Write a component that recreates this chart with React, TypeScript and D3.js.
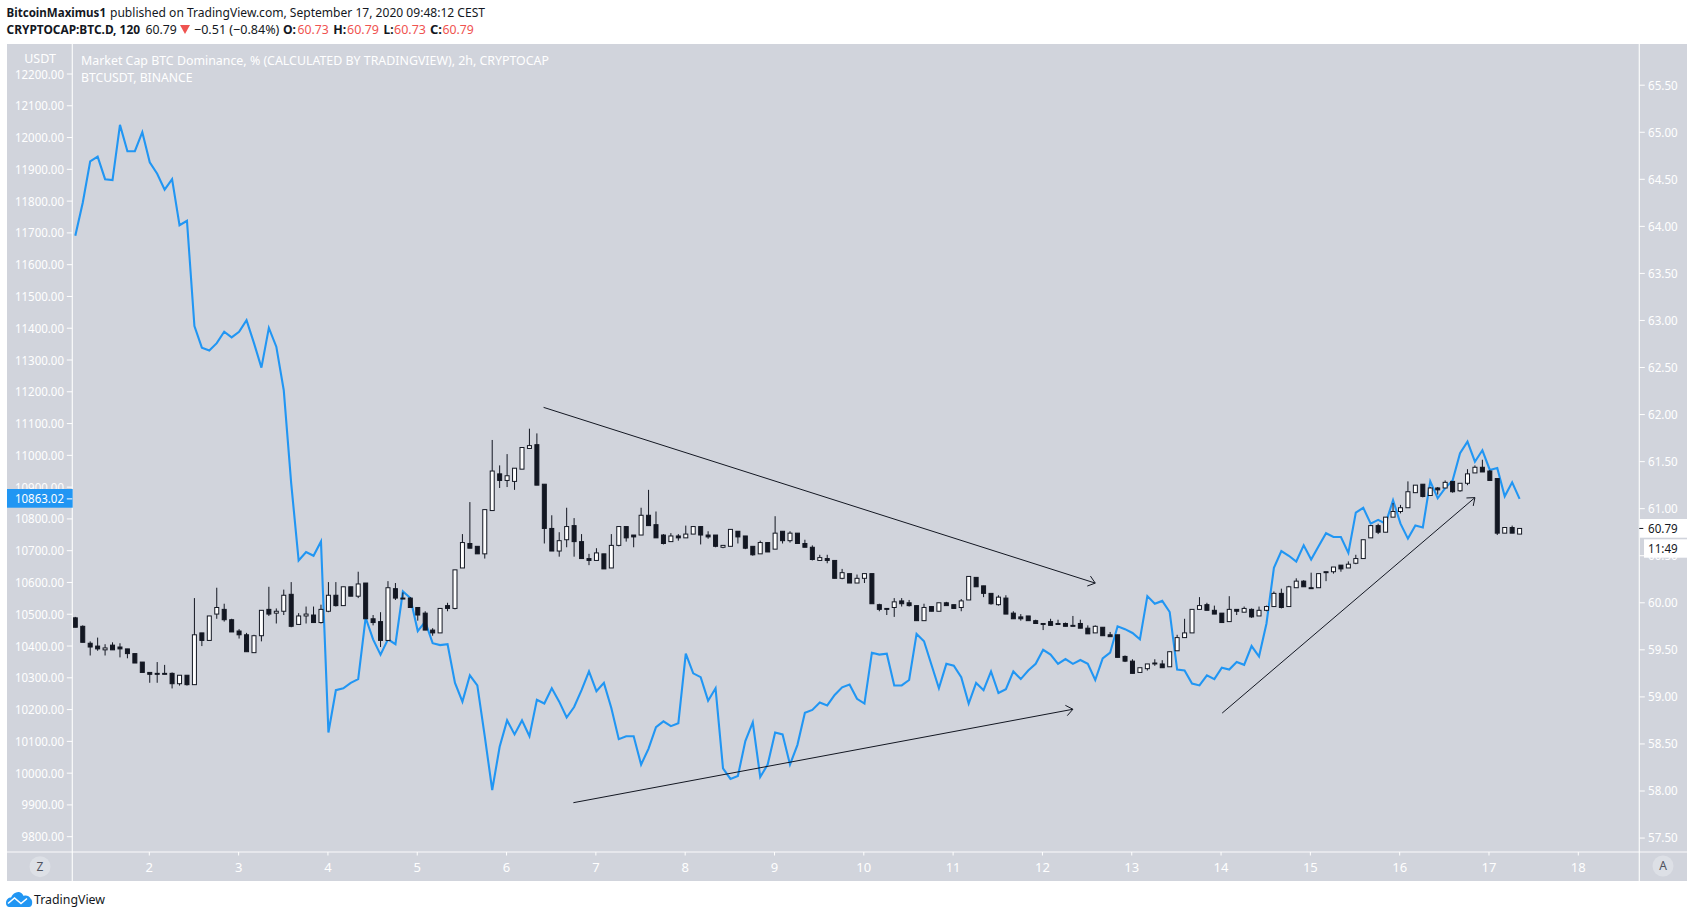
import React from "react";
import * as d3 from "d3";

// BTC.D candles (right axis, percent), 2h bars, one row per ten bars
const opens = [
59.84,59.75,59.57,59.54,59.50,59.55,59.53,59.51,59.46,59.37,
59.26,59.25,59.25,59.25,59.14,59.23,59.13,59.68,59.60,59.88,
59.93,59.82,59.70,59.66,59.47,59.65,59.93,59.89,59.91,60.09,
59.77,59.86,59.87,59.79,59.91,60.08,59.97,60.17,60.07,60.21,
59.83,59.80,59.60,60.15,60.05,60.05,59.95,59.89,59.71,59.68,
59.97,59.94,60.37,60.63,60.60,60.52,60.98,61.37,61.30,61.29,
61.42,61.64,61.68,61.26,60.79,60.55,60.67,60.82,60.65,60.47,
60.45,60.52,60.37,60.61,60.81,60.72,60.72,60.93,60.83,60.72,
60.65,60.71,60.69,60.73,60.81,60.72,60.72,60.59,60.60,60.76,
60.71,60.60,60.52,60.64,60.57,60.76,60.66,60.74,60.63,60.59,
60.45,60.47,60.45,60.26,60.31,60.21,60.26,60.31,59.98,59.94,
59.95,60.02,60.00,59.97,59.81,59.96,59.91,60.00,59.98,59.95,
60.03,60.27,60.18,60.10,59.98,60.05,59.89,59.85,59.86,59.81,
59.78,59.80,59.78,59.78,59.76,59.78,59.73,59.68,59.74,59.66,
59.66,59.43,59.38,59.26,59.30,59.36,59.35,59.32,59.49,59.63,
59.68,59.93,59.98,59.92,59.89,59.80,59.93,59.90,59.93,59.86,
59.92,59.96,60.10,59.96,60.16,60.23,60.16,60.16,60.33,60.33,
60.40,60.37,60.42,60.47,60.69,60.82,60.75,60.91,60.97,61.01,
61.17,61.26,61.14,61.22,61.22,61.29,61.19,61.27,61.38,61.44,
61.40,61.32,60.74,60.80,60.73];
const highs = [
59.85,59.76,59.59,59.63,59.56,59.58,59.57,59.51,59.46,59.37,
59.26,59.37,59.34,59.26,59.23,59.23,60.05,59.68,59.86,60.16,
59.99,59.83,59.72,59.68,59.66,59.92,60.17,59.94,60.14,60.22,
59.89,59.96,59.96,59.98,60.22,60.22,60.17,60.17,60.33,60.21,
59.87,59.90,60.23,60.21,60.11,60.06,59.95,59.91,59.73,59.94,
60.00,60.35,60.73,61.07,60.60,60.99,61.73,61.46,61.58,61.43,
61.65,61.85,61.80,61.26,60.93,60.75,61.01,60.90,60.73,60.52,
60.58,60.52,60.73,60.81,60.81,60.72,61.01,61.20,60.97,60.73,
60.74,60.73,60.82,60.81,60.81,60.76,60.72,60.61,60.78,60.76,
60.71,60.60,60.66,60.64,60.92,60.76,60.76,60.74,60.67,60.61,
60.51,60.51,60.45,60.36,60.31,60.30,60.31,60.31,59.99,59.94,
60.05,60.05,60.03,59.97,59.99,59.96,60.00,60.01,59.98,60.04,
60.28,60.27,60.18,60.10,60.08,60.08,59.91,59.88,59.86,59.82,
59.78,59.83,59.82,59.79,59.86,59.82,59.76,59.76,59.74,59.69,
59.66,59.44,59.40,59.31,59.35,59.40,59.39,59.48,59.66,59.83,
59.93,60.06,60.00,59.97,59.89,60.07,59.93,59.96,59.94,59.96,
59.97,60.12,60.15,60.18,60.26,60.24,60.32,60.31,60.33,60.38,
60.40,60.44,60.51,60.67,60.82,60.84,60.91,61.06,61.04,61.29,
61.25,61.26,61.23,61.23,61.30,61.29,61.27,61.42,61.46,61.52,
61.41,61.32,60.80,60.82,60.79];
const lows = [
59.74,59.58,59.44,59.49,59.44,59.50,59.42,59.41,59.36,59.26,
59.15,59.15,59.24,59.09,59.12,59.12,59.13,59.54,59.60,59.83,
59.80,59.69,59.62,59.48,59.47,59.59,59.86,59.78,59.87,59.74,
59.77,59.78,59.79,59.78,59.90,59.96,59.97,60.07,60.05,59.83,
59.76,59.53,59.60,60.03,60.04,59.95,59.81,59.71,59.65,59.68,
59.91,59.93,60.37,60.58,60.52,60.47,60.98,61.22,61.23,61.20,
61.42,61.64,61.25,60.63,60.55,60.49,60.59,60.49,60.47,60.40,
60.45,60.36,60.37,60.60,60.65,60.59,60.72,60.82,60.69,60.62,
60.65,60.66,60.69,60.73,60.62,60.68,60.59,60.58,60.60,60.63,
60.57,60.50,60.52,60.54,60.57,60.63,60.64,60.63,60.59,60.45,
60.45,60.42,60.26,60.25,60.21,60.21,60.21,59.99,59.91,59.87,
59.85,59.96,59.96,59.81,59.81,59.91,59.91,59.97,59.94,59.91,
60.03,60.17,60.06,59.98,59.97,59.88,59.83,59.81,59.81,59.78,
59.71,59.76,59.77,59.75,59.75,59.73,59.67,59.68,59.65,59.64,
59.42,59.37,59.25,59.26,59.28,59.33,59.31,59.32,59.49,59.63,
59.68,59.93,59.92,59.88,59.79,59.80,59.87,59.90,59.84,59.86,
59.91,59.96,59.94,59.96,60.16,60.17,60.15,60.16,60.23,60.31,
60.33,60.37,60.41,60.47,60.69,60.73,60.75,60.91,60.95,61.01,
61.17,61.12,61.14,61.15,61.22,61.17,61.18,61.25,61.38,61.39,
61.30,60.72,60.74,60.74,60.73];
const closes = [
59.74,59.58,59.53,59.51,59.52,59.50,59.51,59.46,59.36,59.26,
59.24,59.24,59.24,59.14,59.23,59.13,59.66,59.60,59.86,59.95,
59.82,59.69,59.66,59.48,59.65,59.92,59.88,59.91,60.08,59.75,
59.86,59.88,59.79,59.93,60.08,59.97,60.17,60.07,60.20,59.83,
59.79,59.60,60.16,60.05,60.04,59.95,59.87,59.71,59.68,59.94,
59.94,60.35,60.64,60.58,60.52,60.99,61.40,61.30,61.35,61.43,
61.65,61.67,61.25,60.79,60.55,60.66,60.81,60.65,60.47,60.45,
60.53,60.36,60.61,60.81,60.69,60.70,60.93,60.82,60.69,60.63,
60.71,60.69,60.73,60.81,60.72,60.70,60.60,60.61,60.78,60.70,
60.58,60.51,60.64,60.54,60.74,60.66,60.74,60.63,60.59,60.46,
60.48,60.45,60.26,60.32,60.21,60.26,60.31,59.99,59.93,59.93,
60.01,59.99,59.97,59.81,59.95,59.91,60.00,59.97,59.94,60.02,
60.28,60.17,60.10,59.99,60.06,59.88,59.83,59.83,59.81,59.78,
59.77,59.76,59.77,59.75,59.75,59.73,59.67,59.75,59.65,59.64,
59.42,59.38,59.25,59.31,59.35,59.35,59.31,59.48,59.63,59.68,
59.93,59.97,59.92,59.88,59.79,59.93,59.91,59.94,59.85,59.92,
59.96,60.10,59.95,60.17,60.23,60.17,60.15,60.31,60.32,60.38,
60.36,60.41,60.47,60.67,60.82,60.75,60.91,60.97,61.01,61.18,
61.25,61.13,61.22,61.20,61.28,61.18,61.27,61.37,61.44,61.39,
61.30,60.74,60.80,60.74,60.79];

// BTCUSDT closes (left axis, USDT)
const btcusdt = [
11691,11795,11925,11940,11869,11866,12040,11957,11957,12017,
11922,11886,11836,11869,11724,11738,11407,11339,11330,11353,
11389,11371,11389,11425,11353,11276,11401,11342,11205,10912,
10669,10696,10684,10729,10128,10261,10267,10284,10296,10489,
10421,10373,10421,10406,10572,10551,10447,10477,10409,10403,
10406,10284,10225,10308,10276,10116,9947,10083,10166,10122,
10166,10116,10231,10219,10267,10225,10175,10208,10261,10320,
10258,10284,10205,10107,10116,10116,10027,10077,10145,10163,
10148,10157,10376,10314,10302,10228,10267,10015,9982,9991,
10101,10160,9988,10027,10128,10122,10027,10089,10190,10199,
10222,10213,10246,10270,10279,10234,10219,10379,10373,10376,
10276,10276,10293,10438,10415,10341,10267,10344,10338,10302,
10219,10284,10261,10320,10252,10264,10320,10296,10323,10344,
10388,10373,10344,10359,10344,10356,10344,10293,10361,10379,
10462,10453,10441,10421,10557,10533,10542,10507,10326,10323,
10282,10276,10308,10296,10332,10326,10350,10341,10400,10367,
10471,10646,10699,10684,10666,10717,10672,10714,10755,10743,
10743,10693,10820,10835,10785,10797,10785,10859,10785,10738,
10779,10773,10918,10865,10897,10921,11007,11043,10980,11016,
10954,10960,10871,10915,10863.02];

const leftTicks = d3.range(9800, 12201, 100);
const rightTicks = d3.range(57.5, 65.51, 0.5);
const dayTicks = d3.range(2, 19);

// Drawn trend arrows: bar index and USDT level of both ends
const trendFromBar = [62.9, 66.9, 154.05];
const trendFromUsdt = [11151, 9907, 10189];
const trendToBar = [137.0, 134.0, 188.0];
const trendToUsdt = [10598, 10201, 10867];

const INK = "#131722";
const BLUE = "#2196f3";
const RED = "#ef5350";
const PANE = "#d1d4dc";
const FONT = "'Noto Sans', 'Open Sans', sans-serif";

const xBar = d3.scaleLinear().domain([0, 194]).range([75.3, 1519.6]);
const yLeft = d3.scaleLinear().domain([9800, 12200]).range([836.7, 74]);
const yRight = d3.scaleLinear().domain([58, 65.5]).range([791, 85.2]);
const xDay = d3.scaleLinear().domain([2, 18]).range([149.3, 1578.3]);

const line = d3
  .line<number>()
  .x((_, i) => xBar(i))
  .y((d) => yLeft(d));

function T(p: {
  x: number; y: number; w?: number; s: string; fill?: string; size?: number;
  weight?: number; anchor?: string; op?: number;
}) {
  const { x, y, w, s, fill = INK, size = 13, weight = 400, anchor = "start", op = 1 } = p;
  return (
    <text
      x={x}
      y={y}
      dominantBaseline="central"
      textAnchor={anchor}
      fontFamily={FONT}
      fontSize={size}
      fontWeight={weight}
      fill={fill}
      fillOpacity={op}
      {...(w ? { textLength: w, lengthAdjust: "spacingAndGlyphs" } : {})}
    >
      {s}
    </text>
  );
}

function arrowHead(x0: number, y0: number, x1: number, y1: number) {
  const a = Math.atan2(y1 - y0, x1 - x0);
  const len = 8.5;
  const sp = (38 * Math.PI) / 180;
  const p1 = [x1 - len * Math.cos(a - sp), y1 - len * Math.sin(a - sp)];
  const p2 = [x1 - len * Math.cos(a + sp), y1 - len * Math.sin(a + sp)];
  return `M${p1[0]},${p1[1]}L${x1},${y1}L${p2[0]},${p2[1]}`;
}

export default function App() {
  const W = 1694;
  const H = 918;
  const axisL = 72.3;
  const axisR = 1639.3;
  const axisB = 852;
  const bodyW = 4;
  const tickText = "#ffffff";
  return (
    <svg
      width={W}
      height={H}
      viewBox={`0 0 ${W} ${H}`}
      style={{ position: "absolute", left: 0, top: 0, display: "block", background: "#fff" }}
    >
      {/* header */}
      <T x={6.5} y={12.3} w={99.5} s="BitcoinMaximus1" weight={700} size={12.5} />
      <T x={110} y={12.3} w={375} s="published on TradingView.com, September 17, 2020 09:48:12 CEST" />
      <T x={6.5} y={29.3} w={133.5} s="CRYPTOCAP:BTC.D, 120" weight={700} size={12} />
      <T x={145.4} y={29.3} w={31.4} s="60.79" />
      <path d="M180,25 L190,25 L185,34 Z" fill={RED} />
      <T x={194} y={29.3} w={85.4} s="−0.51 (−0.84%)" />
      <T x={283} y={29.3} w={13} s="O:" weight={700} />
      <T x={297.4} y={29.3} w={31.3} s="60.73" fill={RED} />
      <T x={333.3} y={29.3} w={13} s="H:" weight={700} />
      <T x={347} y={29.3} w={32} s="60.79" fill={RED} />
      <T x={383.5} y={29.3} w={10} s="L:" weight={700} />
      <T x={394} y={29.3} w={32} s="60.73" fill={RED} />
      <T x={430} y={29.3} w={12} s="C:" weight={700} />
      <T x={442.4} y={29.3} w={31.4} s="60.79" fill={RED} />

      {/* pane */}
      <rect x={7} y={44} width={1680} height={837} fill={PANE} />

      {/* BTCUSDT line sits under the candles */}
      <defs>
        <clipPath id="plot">
          <rect x={axisL} y={44} width={axisR - axisL} height={axisB - 44} />
        </clipPath>
      </defs>
      <g clipPath="url(#plot)">
        <path d={line(btcusdt) || ""} fill="none" stroke={BLUE} strokeWidth={2.1} strokeLinejoin="miter" />
        {opens.map((o, i) => {
          const c = closes[i];
          const up = c >= o;
          const x = xBar(i);
          const top = yRight(Math.max(o, c));
          const bot = yRight(Math.min(o, c));
          return (
            <g key={i}>
              <line x1={x} x2={x} y1={yRight(highs[i])} y2={yRight(lows[i])} stroke={INK} strokeWidth={1} />
              <rect
                x={x - bodyW / 2}
                y={top}
                width={bodyW}
                height={Math.max(bot - top, 0.6)}
                fill={up ? "#fff" : INK}
                stroke={INK}
                strokeWidth={1}
              />
            </g>
          );
        })}
        {trendFromBar.map((b, i) => {
          const x0 = xBar(b);
          const y0 = yLeft(trendFromUsdt[i]);
          const x1 = xBar(trendToBar[i]);
          const y1 = yLeft(trendToUsdt[i]);
          return (
            <g key={i} fill="none" stroke={INK} strokeWidth={1}>
              <line x1={x0} y1={y0} x2={x1} y2={y1} />
              <path d={arrowHead(x0, y0, x1, y1)} />
            </g>
          );
        })}
      </g>

      {/* frame */}
      <g stroke="#fff" strokeWidth={1.2} strokeOpacity={0.9}>
        <line x1={axisL} x2={axisL} y1={44} y2={881} />
        <line x1={axisR} x2={axisR} y1={44} y2={881} />
        <line x1={7} x2={1687} y1={axisB} y2={axisB} />
      </g>

      {/* legend inside pane */}
      <T x={81} y={60} w={468} s="Market Cap BTC Dominance, % (CALCULATED BY TRADINGVIEW), 2h, CRYPTOCAP" fill={tickText} />
      <T x={81} y={77} w={111.5} s="BTCUSDT, BINANCE" fill={tickText} />
      <T x={40} y={58.4} s="USDT" fill={tickText} anchor="middle" size={12.5} />

      {/* left axis */}
      {leftTicks.map((v) => (
        <g key={v}>
          <line x1={axisL - 5.5} x2={axisL} y1={yLeft(v)} y2={yLeft(v)} stroke="#fff" strokeWidth={1} />
          <T x={64} y={yLeft(v) - 0.5} s={v.toFixed(2)} w={v >= 10000 ? 49 : 42.4} fill={tickText} anchor="end" />
        </g>
      ))}
      {/* right axis */}
      {rightTicks.map((v) => (
        <g key={v}>
          <line x1={axisR} x2={axisR + 5.5} y1={yRight(v)} y2={yRight(v)} stroke="#fff" strokeWidth={1} />
          <T x={1648} y={yRight(v) - 0.7} s={v.toFixed(2)} w={29.7} fill={tickText} />
        </g>
      ))}
      {/* day axis */}
      {dayTicks.map((d) => (
        <g key={d}>
          <line x1={xDay(d)} x2={xDay(d)} y1={axisB} y2={axisB + 3.5} stroke="#fff" strokeWidth={1} />
          <T x={xDay(d)} y={867} s={String(d)} fill={tickText} anchor="middle" />
        </g>
      ))}

      {/* last value labels */}
      <rect x={7} y={489} width={65.7} height={18.7} fill={BLUE} />
      <line x1={axisL - 5.5} x2={axisL} y1={yLeft(10863.02)} y2={yLeft(10863.02)} stroke="#fff" strokeWidth={1} />
      <T x={64} y={498.2} s="10863.02" w={49} fill="#fff" anchor="end" />
      <rect x={1639.8} y={519} width={47.2} height={18.7} fill="#fff" />
      <line x1={axisR} x2={axisR + 4} y1={yRight(60.79)} y2={yRight(60.79)} stroke={INK} strokeWidth={1} />
      <T x={1648} y={527.9} s="60.79" w={29.7} />
      <rect x={1644} y={539.3} width={43} height={18.4} fill="#fff" />
      <T x={1648} y={548.2} s="11:49" w={29.7} />

      {/* corner buttons */}
      <circle cx={40} cy={866.7} r={10.5} fill="#dde0e6" />
      <T x={40} y={866.4} s="Z" fill="#50535e" anchor="middle" size={12} />
      <circle cx={1663} cy={866} r={10.5} fill="#dde0e6" />
      <T x={1663} y={865.7} s="A" fill="#50535e" anchor="middle" size={12} />

      {/* logo */}
      <path
        d="M6 903 C6 899.5 8.5 897.5 11 897.5 C12.5 894 15.5 891.7 19 892 C21 892.3 22.5 894 23.7 896 C26 895 29.5 896 30.5 898.5 C33 900 33 907 29 907 L9.5 907 C7 907 6 905 6 903 Z"
        fill={BLUE}
      />
      <path d="M8 903.5 L14.5 898 L21 903.5 L27 898.5" fill="none" stroke="#fff" strokeWidth={1.6} />
      <T x={34} y={899} w={71} s="TradingView" fill={INK} />
    </svg>
  );
}
